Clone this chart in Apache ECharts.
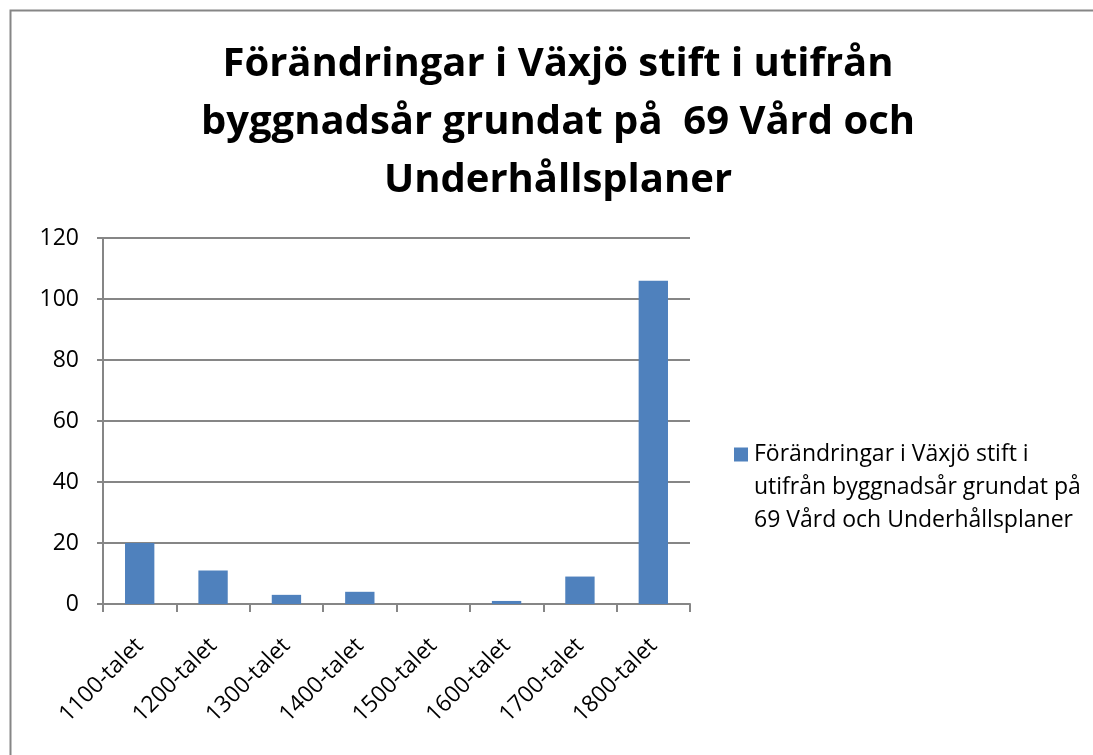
<!DOCTYPE html>
<html>
<head>
<meta charset="utf-8">
<script src="https://cdn.jsdelivr.net/npm/echarts@6/dist/echarts.min.js"></script>
<style>
  html, body { margin: 0; padding: 0; background: #fff; }
  #chart { width: 1093px; height: 755px; }
</style>
</head>
<body>
<div id="chart"></div>
<script>
// data
var categories = ['1100-talet', '1200-talet', '1300-talet', '1400-talet', '1500-talet', '1600-talet', '1700-talet', '1800-talet']
var values = [20, 11, 3, 4, 0, 1, 9, 106]
var seriesName = 'Förändringar i Växjö stift i utifrån byggnadsår grundat på 69 Vård och Underhållsplaner'
var legendLines = ['Förändringar i Växjö stift i', 'utifrån byggnadsår grundat på', '69 Vård och Underhållsplaner']
var titleLines = ['Förändringar i Växjö stift i utifrån', 'byggnadsår grundat på  69 Vård och', 'Underhållsplaner']

var fontFamily = '"Open Sans", Lato, sans-serif'
var gray = '#868686'
var barColor = '#4F81BD'

var myChart = echarts.init(document.getElementById('chart'))

var option = {
  animation: false,
  textStyle: { fontFamily: fontFamily },
  // ram runt diagrammet
  graphic: [{
    type: 'rect',
    left: 8,
    top: 8,
    shape: { width: 1200, height: 900 },
    style: { fill: 'none', stroke: gray, lineWidth: 2 },
    silent: true
  }],
  title: {
    text: titleLines.join('\n'),
    left: 558,
    top: 36,
    padding: 0,
    textAlign: 'center',
    textStyle: {
      fontFamily: fontFamily,
      fontSize: 40,
      fontWeight: 'bold',
      color: '#000',
      lineHeight: 58
    }
  },
  legend: {
    left: 724,
    top: 433,
    orient: 'vertical',
    icon: 'none',
    itemWidth: 0,
    itemHeight: 14,
    formatter: function () {
      // first line carries the colour square, the rest are indented
      return legendLines.map(function (line, i) {
        return (i === 0 ? '{sq|}' : '{ind|}') + '{t|' + line + '}'
      }).join('\n')
    },
    textStyle: {
      fontFamily: fontFamily,
      fontSize: 23,
      color: '#000',
      lineHeight: 33,
      rich: {
        sq: { width: 14, height: 14, backgroundColor: barColor },
        ind: { width: 14, height: 14 },
        t: { fontFamily: fontFamily, fontSize: 23, color: '#000', lineHeight: 33, padding: [0, 0, 0, 6] }
      }
    },
    data: [seriesName]
  },
  grid: {
    left: 103,
    top: 238,
    width: 587,
    height: 366
  },
  xAxis: {
    type: 'category',
    data: categories,
    axisLine: { lineStyle: { color: gray, width: 2 } },
    axisTick: { show: true, length: 8, lineStyle: { color: gray, width: 2 } },
    axisLabel: {
      rotate: 45,
      margin: 38,
      fontSize: 23,
      color: '#000',
      fontFamily: fontFamily
    }
  },
  yAxis: {
    type: 'value',
    min: 0,
    max: 120,
    interval: 20,
    axisLine: { show: true, lineStyle: { color: gray, width: 2 } },
    axisTick: { show: true, length: 6, lineStyle: { color: gray, width: 2 } },
    splitLine: { lineStyle: { color: gray, width: 2 } },
    axisLabel: {
      margin: 24,
      fontSize: 23,
      color: '#000',
      fontFamily: fontFamily
    }
  },
  series: [{
    name: seriesName,
    type: 'bar',
    data: values,
    barCategoryGap: '60%',
    itemStyle: { color: barColor }
  }]
}

myChart.setOption(option)
</script>
</body>
</html>
